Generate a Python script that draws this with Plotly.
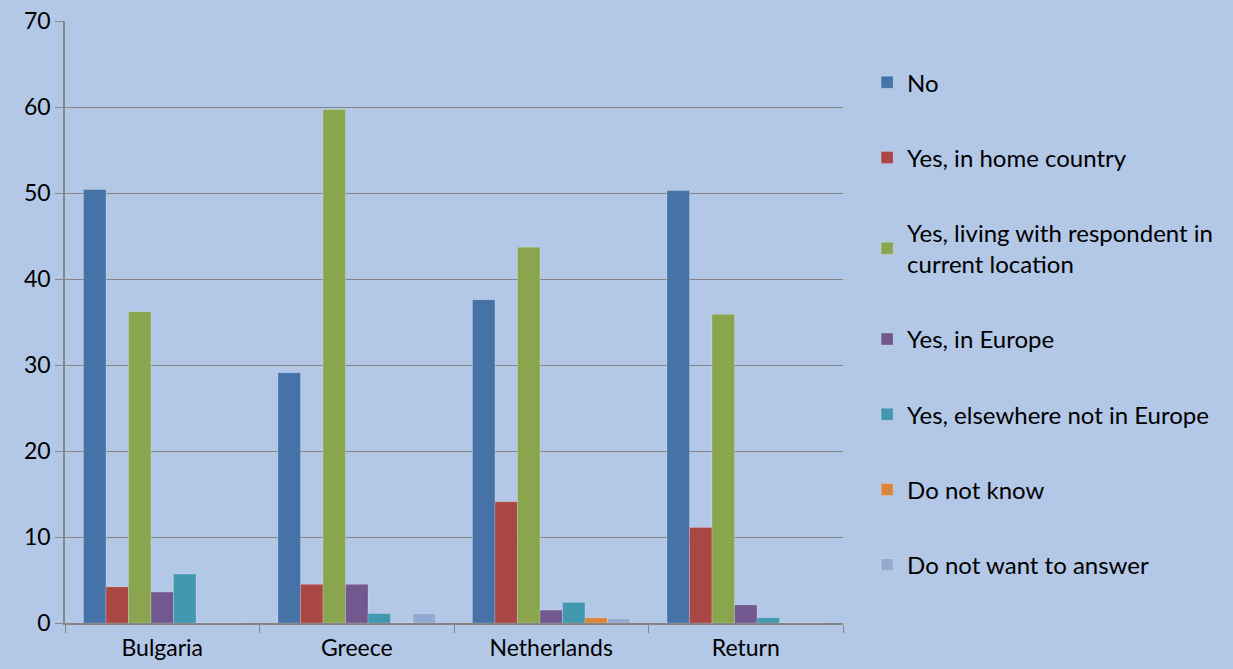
import plotly.graph_objects as go

countries = ["Bulgaria", "Greece", "Netherlands", "Return"]

series_names = [
    "No",
    "Yes, in home country",
    "Yes, living with respondent in<br>current location",
    "Yes, in Europe",
    "Yes, elsewhere not in Europe",
    "Do not know",
    "Do not want to answer",
]

no_vals = [50.4, 29.1, 37.6, 50.3]
home_vals = [4.2, 4.5, 14.1, 11.1]
living_vals = [36.2, 59.7, 43.7, 35.9]
europe_vals = [3.6, 4.5, 1.5, 2.1]
elsewhere_vals = [5.7, 1.1, 2.4, 0.6]
dont_know_vals = [0, 0, 0.6, 0]
no_answer_vals = [0, 1.1, 0.5, 0]

colors = ["#4572A7", "#AA4643", "#89A54E", "#71588F", "#4198AF", "#DB843D", "#93A9CF"]

all_vals = [no_vals, home_vals, living_vals, europe_vals,
            elsewhere_vals, dont_know_vals, no_answer_vals]

fig = go.Figure()
for i, (name, vals) in enumerate(zip(series_names, all_vals)):
    fig.add_trace(go.Bar(
        x=countries, y=vals, name=name,
        marker=dict(color=colors[i], line=dict(width=0.6, color="rgba(255,255,255,0.35)")),
        legendgroup=str(i),
    ))

bg = "#B3C7E7"
fig.update_layout(
    width=1233, height=669,
    paper_bgcolor=bg, plot_bgcolor=bg,
    barmode="group", bargap=0.19, bargroupgap=0,
    margin=dict(l=65, r=390, t=21, b=46, autoexpand=False),
    font=dict(family="Lato, 'Open Sans', sans-serif", size=23, color="#000000"),
    legend=dict(
        x=1.031, xanchor="left", y=0.935, yanchor="top",
        tracegroupgap=41, bgcolor="rgba(0,0,0,0)",
        font=dict(size=24), itemwidth=30,
    ),
    showlegend=True,
)
fig.update_xaxes(
    showline=True, linecolor="#868686", linewidth=1.5,
    ticks="outside", tickson="boundaries", ticklen=8, tickcolor="#868686",
    ticklabelstandoff=4,
    showgrid=False,
)
fig.update_yaxes(
    range=[0, 70], dtick=10,
    showline=True, linecolor="#868686", linewidth=1.5,
    ticks="outside", ticklen=8, tickcolor="#868686",
    showgrid=True, gridcolor="#868686", gridwidth=1,
    zeroline=False,
)

fig.write_html(
    "out.html",
    config={"displayModeBar": False},
    post_script="document.body.style.margin='0';document.body.style.overflow='hidden';",
)
